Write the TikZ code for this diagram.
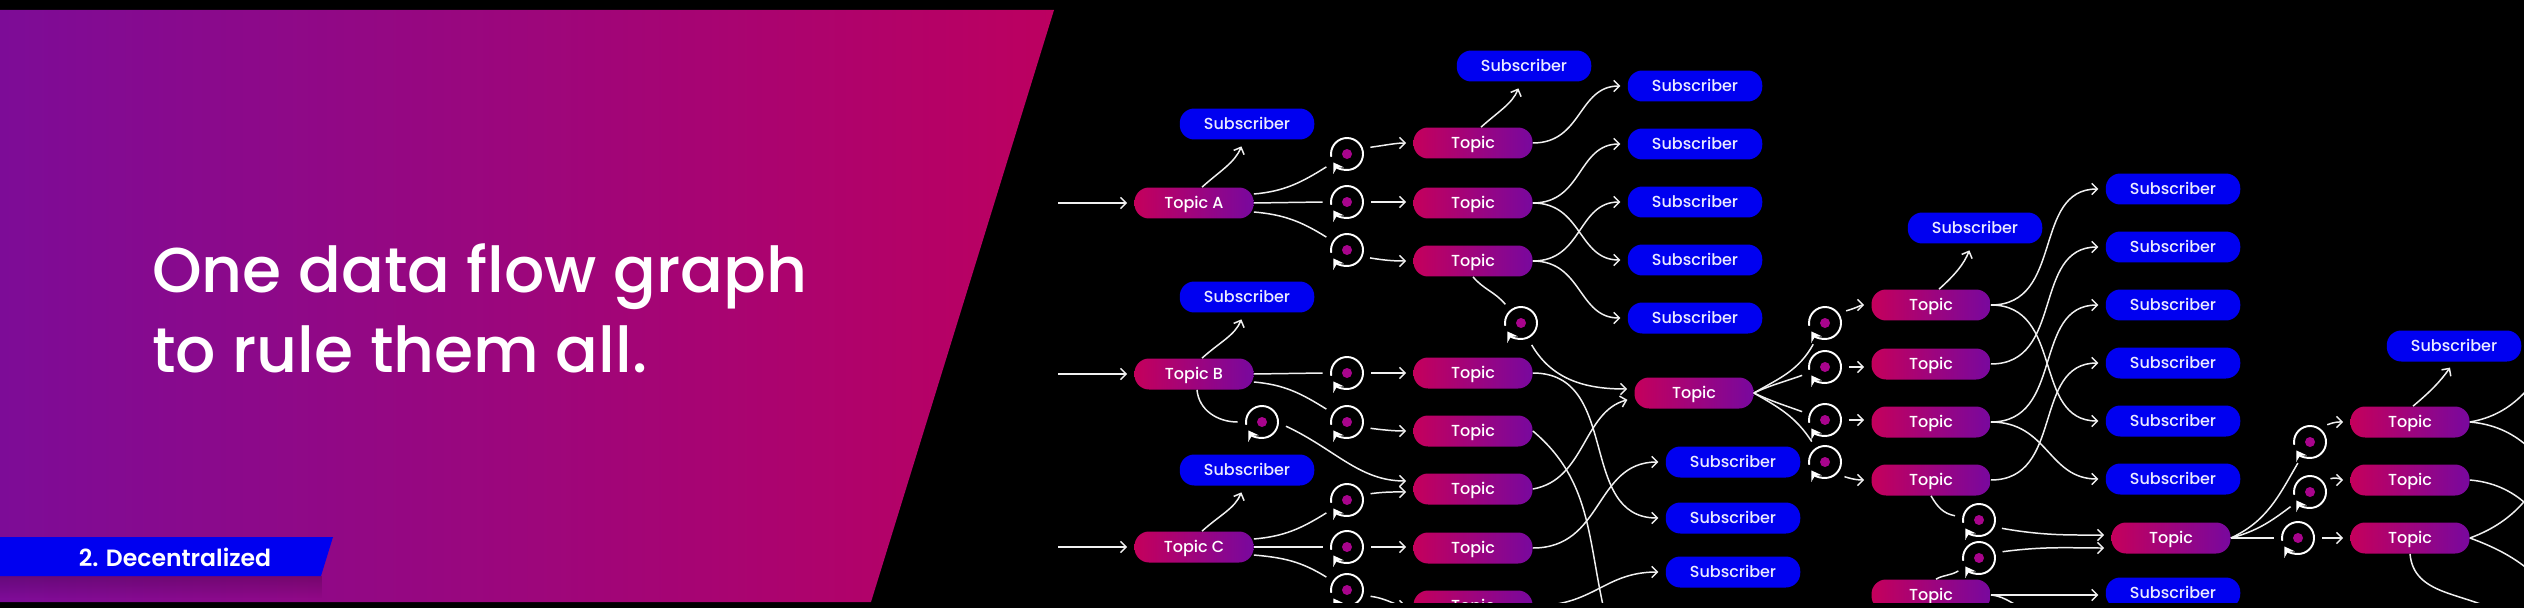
\documentclass[tikz,border=0pt]{standalone}
\usepackage{fontspec}
\setmainfont{Poppins}
\newfontfamily\medfont{Poppins Medium}
\newfontfamily\semifont{Poppins SemiBold}
\usetikzlibrary{calc, positioning}
\usetikzlibrary{arrows.meta}
\usetikzlibrary{fadings}
\definecolor{panelL}{HTML}{7D0C97}
\definecolor{panelR}{HTML}{BC0060}
\definecolor{topicL}{HTML}{C4005C}
\definecolor{topicR}{HTML}{78089E}
\definecolor{subBlue}{HTML}{0000F0}
\definecolor{dotPink}{HTML}{A8048C}
\definecolor{lineGrey}{HTML}{F0F0F0}
\tikzset{
  topicnode/.style={rounded corners=0.29cm, left color=topicL, right color=topicR, text=white,
    minimum width=2.38cm, minimum height=0.62cm, inner sep=0pt, text height=6.6pt, text depth=0pt,
    font=\fontsize{9.1pt}{10pt}\medfont},
  subnode/.style={rounded corners=0.29cm, fill=subBlue, text=white!92!blue,
    minimum width=2.69cm, minimum height=0.62cm, inner sep=0pt, text height=6.6pt, text depth=0pt,
    font=\fontsize{9.1pt}{10pt}\medfont},
  loopnode/.style={circle, minimum size=0.96cm, inner sep=0pt,
    path picture={\fill[dotPink] (path picture bounding box.center) circle (0.1cm);}},
  ringline/.style={draw=white, line width=1.1pt, -{Stealth[length=5.4pt,width=7pt]}},
  flowline/.style={draw=lineGrey, line width=0.85pt},
  flowarrow/.style={flowline, -{Straight Barb[length=3.2pt,width=6.4pt]}, shorten >=0.14cm},
}
\begin{document}
\begin{tikzpicture}[x=0.02cm, y=-0.02cm]
\useasboundingbox (0,0) rectangle (2524,608);
\fill[black] (0,0) rectangle (2524,608);

\shade[left color=panelL, right color=panelR] (0,10) -- (1054,10) -- (871,602) -- (0,602) -- cycle;
\fill[black, opacity=0.18, path fading=south] (0,576) rectangle (322,598);
\fill[subBlue] (0,537) -- (333,537) -- (321,576) -- (0,576) -- cycle;
\node[text=white, font=\fontsize{13.4pt}{15pt}\semifont] (banner) at (175,557) {2. Decentralized};
\node[text=white, align=left, anchor=base west, font=\fontsize{36pt}{45.35pt}\medfont] (title) at (146,372)
  {One data flow graph\\to rule them all.};

\begin{scope}[shift={(0,1)}]
\clip (0,9) rectangle (2524,601);

\foreach \name/\lab/\xx/\yy in {topicA/Topic A/1194/202, topicB/Topic B/1194/373, topicC/Topic C/1194/546,
    topic1/Topic/1473/142, topic2/Topic/1473/202, topic3/Topic/1473/260, topic4/Topic/1473/372,
    topic5/Topic/1473/430, topic6/Topic/1473/488, topic7/Topic/1473/547, topic8/Topic/1473/605,
    topicD/Topic/1694/392, topic9/Topic/1931/304, topic10/Topic/1931/363, topic11/Topic/1931/421,
    topic12/Topic/1931/479, topic13/Topic/1931/594, topicE/Topic/2171/537,
    topic14/Topic/2410/421, topic15/Topic/2410/479, topic16/Topic/2410/537}
  \node[topicnode] (\name) at (\xx,\yy) {\lab};

\foreach \name/\xx/\yy in {subA/1247/123, subB/1247/296, subC/1247/469, subD/1524/65,
    sub1/1695/85, sub2/1695/143, sub3/1695/201, sub4/1695/259, sub5/1695/317,
    sub6/1733/461, sub7/1733/517, sub8/1733/571, subE/1975/227,
    sub9/2173/188, sub10/2173/246, sub11/2173/304, sub12/2173/362, sub13/2173/420,
    sub14/2173/478, sub15/2173/592, subF/2454/345}
  \node[subnode] (\name) at (\xx,\yy) {Subscriber};

\foreach \name/\xx/\yy in {loop1/1347/153, loop2/1347/201, loop3/1347/249, loop4/1521/322,
    loop5/1347/372, loop6/1347/421, loop7/1262/421, loop8/1347/499, loop9/1347/546, loop10/1347/589,
    loop11/1825/322, loop12/1825/366, loop13/1825/419, loop14/1825/461, loop15/1979/519,
    loop16/1979/557, loop17/2310/441, loop18/2310/491, loop19/2298/537} {
  \node[loopnode] (\name) at (\xx,\yy) {};
  \draw[ringline] (\name.center) ++(190:0.32cm) arc[start angle=190, end angle=-148, radius=0.32cm];
}

\foreach \name/\xx/\yy in {inA/1058/202, inB/1058/373, inC/1058/546, outG/1608/625, outH/2030/610,
    outI/2560/345, outJ/2565/495, outK/2565/555, outL/2560/425, outM/2570/620, outN/2500/612}
  \coordinate (\name) at (\xx,\yy);

\foreach \a/\b in {inA/topicA, inB/topicB, inC/topicC, loop2/topic2, loop5/topic4, loop9/topic7,
    loop12/topic10, loop13/topic11, topic13/sub15, loop19/topic16}
  \draw[flowarrow] (\a) -- (\a -| \b.west);
\foreach \a/\b in {topicA/loop2, topicB/loop5, topicC/loop9, topicE/loop19}
  \draw[flowline] (\a.east) -- (\b.west);

\foreach \a/\b in {topicA/subA, topicB/subB, topicC/subC, topic1/subD, topic9/subE}
  \draw[flowarrow] ($(\a.north)+(8,0)$) to[out=42, in=-112] ($(\b.south)+(-3,0)$);
\draw[flowarrow] ($(topic14.north)+(3,0)$) to[out=40, in=-125] (subF.south);

\draw[flowline] ($(topicA.east)+(0,-9)$) to[out=5, in=212] (loop1.212);
\draw[flowline] ($(topicA.east)+(0,9)$) to[out=-5, in=148] (loop3.148);
\draw[flowline] ($(topicB.east)+(0,8)$) to[out=-5, in=148] (loop6.148);
\draw[flowline] ($(topicC.east)+(0,-8)$) to[out=5, in=212] (loop8.212);
\draw[flowline] ($(topicC.east)+(0,8)$) to[out=-5, in=148] (loop10.148);
\draw[flowline] ($(topicB.south)+(3,0)$) to[out=-85, in=180] (loop7.west);
\draw[flowline] (topic3.south) to[out=-50, in=130] (loop4.130);

\foreach \a/\o/\b/\s in {loop1/16/topic1/0, loop3/-19/topic3/0, loop6/-15/topic5/0, loop8/15/topic6/3,
    loop10/-15/topic8/0, loop11/30/topic9/0, loop14/-37/topic12/0, loop15/-20/topicE/-3,
    loop16/15/topicE/10, loop17/45/topic14/0, loop18/33/topic15/0}
  \draw[flowarrow] (\a.\o) to[out=\o/2, in=180] ($(\b.west)+(0,\s)$);
\draw[flowarrow] (loop7.-10) to[out=-25, in=180] ($(topic6.west)+(0,-8)$);
\draw[flowarrow] (loop4.-64) to[out=-60, in=180] ($(topicD.west)+(0,-4)$);

\foreach \a/\b in {topic1/sub1, topic2/sub2, topic2/sub4, topic3/sub3, topic3/sub5, topic4/sub7,
    topic7/sub6, topic8/sub8, topic9/sub9, topic9/sub13, topic10/sub10, topic11/sub11, topic11/sub14,
    topic12/sub12}
  \draw[flowarrow] (\a.east) to[out=0, in=180, looseness=1.15] (\b.west);

\draw[flowline] (topic5.east) to[out=-40, in=105] (outG);
\draw[flowarrow] (topic6.east) to[out=10, in=195] ($(topicD.west)+(0,5)$);

\draw[flowline] (topicD.east) to[out=30, in=241] (loop11.241);
\draw[flowline] (topicD.east) to[out=25, in=200] (loop12.200);
\draw[flowline] (topicD.east) to[out=-25, in=160] (loop13.160);
\draw[flowline] (topicD.east) to[out=-30, in=123] (loop14.123);

\draw[flowline] (topic12.south) to[out=-60, in=170] (loop15.170);
\draw[flowline] ($(topic13.north)+(5,0)$) to[out=30, in=212] (loop16.212);
\draw[flowline] (topic13.east) to[out=-5, in=165] (outH);

\draw[flowline] (topicE.east) to[out=25, in=240] (loop17.240);
\draw[flowline] (topicE.east) to[out=15, in=217] (loop18.217);

\draw[flowline] (topic14.east) to[out=10, in=235] (outI);
\draw[flowline] (topic14.east) to[out=-5, in=120] (outJ);
\draw[flowline] (topic15.east) to[out=-5, in=120] (outK);
\draw[flowline] (topic16.east) to[out=20, in=255] (outL);
\draw[flowline] (topic16.east) to[out=-20, in=120] (outM);
\draw[flowline] (topic16.south) to[out=-85, in=150] (outN);
\end{scope}
\end{tikzpicture}
\end{document}
